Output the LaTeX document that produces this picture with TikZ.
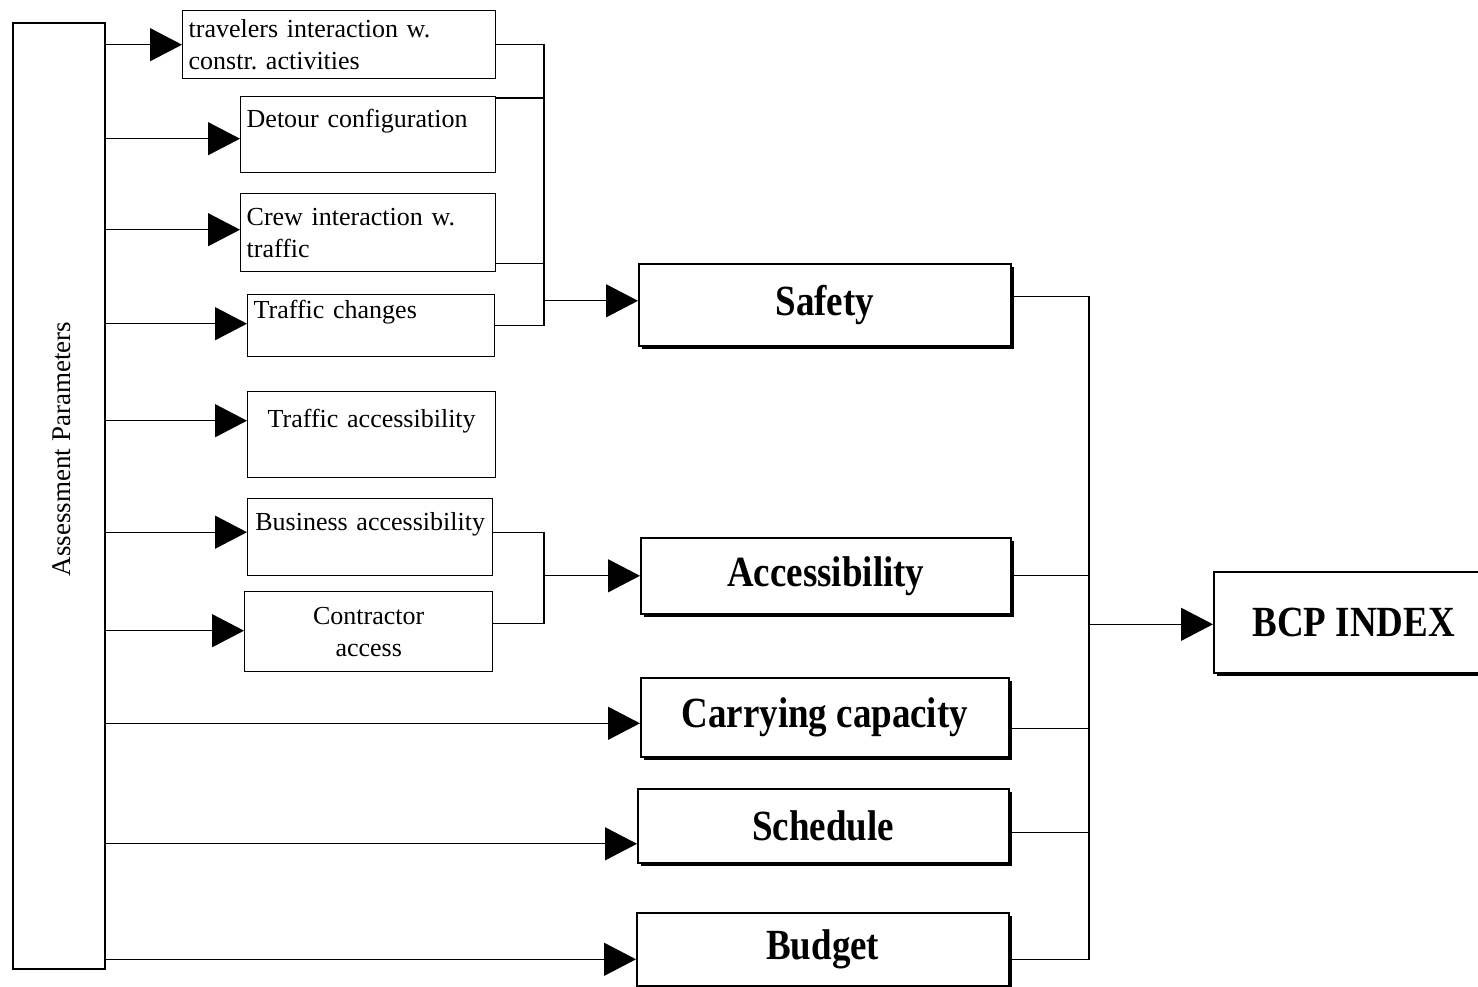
\documentclass[tikz,border=0pt]{standalone}
\usepackage{fontspec}
\setmainfont{Liberation Serif}
\newfontfamily\headfont[FakeStretch=0.86]{Liberation Serif}
\usetikzlibrary{arrows.meta,positioning,calc}
\frenchspacing

\begin{document}
\begin{tikzpicture}[x=1pt,y=-1pt,
    param/.style={draw, line width=1.4pt, anchor=north west, inner xsep=6pt, inner ysep=2pt,
      font=\fontsize{26}{32}\selectfont},
    crit/.style={draw, line width=1.6pt, anchor=north west, inner sep=0pt,
      font=\headfont\fontsize{43}{48}\selectfont\bfseries},
    shade/.style={line width=4pt},
    link/.style={line width=1.3pt},
    feed/.style={line width=1.3pt, -{Triangle[length=32pt,width=33pt]}}
  ]
  \useasboundingbox (0,0) rectangle (1478,987);

  % Parameterkasten
  \node[draw, line width=1.6pt, anchor=north west, minimum width=92pt, minimum height=946pt] (apar) at (12,22) {};
  \node[rotate=90, font=\fontsize{27}{30}\selectfont] (apname) at (62,449) {Assessment Parameters};

  % Einzelparameter
  \node[param, text width=301pt, minimum height=68pt, align=left] (trav) at (182,10) {travelers interaction w.\\constr. activities};
  \node[param, text width=243pt, minimum height=76pt, align=left] (detour) at (240,96) {Detour configuration\\\mbox{}};
  \node[param, text width=243pt, minimum height=78pt, align=left] (crew) at (240,193) {Crew interaction w.\\traffic};
  \node[param, text width=235pt, minimum height=62pt, align=left] (tchange) at (247,294) {Traffic changes\\\mbox{}};
  \node[param, text width=236pt, minimum height=86pt, align=center] (taccess) at (247,391) {Traffic accessibility\\\mbox{}};
  \node[param, text width=233pt, minimum height=77pt, align=center] (busacc) at (247,498) {Business accessibility\\\mbox{}};
  \node[param, text width=236pt, minimum height=80pt, align=center] (contr) at (244,591) {Contractor\\access};

  % Kriterien
  \node[crit, minimum width=372pt, minimum height=82pt] (safety) at (638,263) {Safety};
  \node[crit, minimum width=370pt, minimum height=76pt] (access) at (640,537) {Accessibility};
  \node[crit, minimum width=368pt, minimum height=79pt] (carry) at (640,677) {Carrying capacity};
  \node[crit, minimum width=371pt, minimum height=74pt] (sched) at (637,788) {Schedule};
  \node[crit, minimum width=372pt, minimum height=73pt] (budget) at (636,912) {Budget};
  \node[crit, minimum width=280pt, minimum height=101pt] (bcp) at (1213,571) {BCP INDEX};
  \foreach \b in {safety,access,carry,sched,budget,bcp}
    \draw[shade] ([yshift=-4pt]\b.north east) |- ([xshift=4pt]\b.south west);

  % Pfeile vom Parameterkasten
  \foreach \b/\dy in {trav/0,detour/-4,crew/3,tchange/2,taccess/14,busacc/5,contr/1,carry/-6,sched/-18,budget/-10}{
    \coordinate (in-\b) at ([yshift=\dy pt]\b.west);
    \draw[feed] (apar.east |- in-\b) -- (in-\b);
  }

  % Zusammenfuehrung
  \coordinate (xs) at (544,0);
  \coordinate (xr) at (1089,0);
  \coordinate (in-safety) at ([yshift=4pt]safety.west);
  \coordinate (in-access) at (access.west);
  \coordinate (in-bcp) at ([yshift=-2pt]bcp.west);
  \coordinate (sj) at (in-safety -| xs);
  \coordinate (aj) at (in-access -| xs);
  \coordinate (bj) at (in-bcp -| xr);

  \draw[link] (trav.east) -| (sj);
  \draw[link] ([yshift=-2pt]detour.north east) -| (sj);
  \draw[link] ([yshift=9pt]crew.south east) -| (sj);
  \draw[link] (tchange.east) -| (sj);
  \draw[feed] (sj) -- (in-safety);

  \draw[link] ([yshift=5pt]busacc.east) -| (aj);
  \draw[link] ([yshift=8pt]contr.east) -| (aj);
  \draw[feed] (aj) -- (in-access);

  \foreach \b/\dy in {safety/8,access/0,carry/-11,sched/-7,budget/-10}
    \draw[link] ([yshift=\dy pt]\b.east) -| (bj);
  \draw[feed] (bj) -- (in-bcp);
\end{tikzpicture}
\end{document}
